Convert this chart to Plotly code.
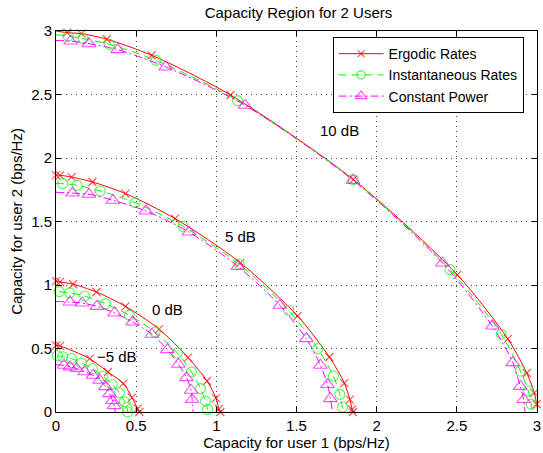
import plotly.graph_objects as go

# ---------------- data ----------------
tick_vals = [0, 0.5, 1, 1.5, 2, 2.5, 3]
tick_text = ["0", "0.5", "1", "1.5", "2", "2.5", "3"]

scheme_names = ["Ergodic Rates", "Instantaneous Rates", "Constant Power"]
snr_labels = ["10 dB", "5 dB", "0 dB", "\u22125 dB"]

# Ergodic rates (user1, user2)
erg_10_x = [0, 0.070, 0.159, 0.317, 0.596, 1.088, 1.855, 2.503, 2.818, 2.936, 2.983, 2.998, 3.005]
erg_10_y = [3.0, 2.987, 2.979, 2.935, 2.809, 2.496, 1.830, 1.080, 0.575, 0.307, 0.150, 0.061, 0]
erg_5_x = [0, 0.025, 0.097, 0.227, 0.433, 0.742, 1.150, 1.507, 1.705, 1.798, 1.833, 1.847, 1.852]
erg_5_y = [1.866, 1.864, 1.850, 1.811, 1.720, 1.523, 1.175, 0.755, 0.433, 0.228, 0.098, 0.021, 0]
erg_0_x = [0, 0.025, 0.107, 0.252, 0.433, 0.643, 0.824, 0.942, 0.998, 1.016, 1.025]
erg_0_y = [1.031, 1.024, 1.006, 0.945, 0.832, 0.652, 0.428, 0.244, 0.110, 0.025, 0]
erg_m5_x = [0, 0.025, 0.210, 0.324, 0.420, 0.474, 0.509, 0.520]
erg_m5_y = [0.525, 0.520, 0.420, 0.315, 0.224, 0.113, 0.027, 0]

# Instantaneous rates
ins_10_x = [0, 0.076, 0.169, 0.334, 0.623, 1.132, 1.853, 2.457, 2.777, 2.896, 2.946, 2.964, 2.970]
ins_10_y = [2.970, 2.960, 2.940, 2.895, 2.769, 2.452, 1.830, 1.121, 0.612, 0.323, 0.165, 0.061, 0]
ins_5_x = [0, 0.041, 0.132, 0.276, 0.493, 0.792, 1.142, 1.451, 1.633, 1.730, 1.770, 1.787, 1.800]
ins_5_y = [1.800, 1.798, 1.785, 1.740, 1.649, 1.462, 1.163, 0.801, 0.499, 0.283, 0.139, 0.039, 0]
ins_0_x = [0.020, 0.085, 0.179, 0.309, 0.458, 0.618, 0.756, 0.845, 0.901, 0.932, 0.946]
ins_0_y = [0.948, 0.938, 0.913, 0.853, 0.761, 0.630, 0.465, 0.315, 0.184, 0.087, 0.019]
ins_m5_x = [0.008, 0.041, 0.097, 0.159, 0.227, 0.293, 0.351, 0.396, 0.427, 0.443, 0.447]
ins_m5_y = [0.443, 0.435, 0.420, 0.386, 0.342, 0.282, 0.217, 0.150, 0.081, 0.035, 0]

# Constant power
con_10_x = [0, 0.091, 0.206, 0.385, 0.685, 1.179, 1.853, 2.410, 2.721, 2.849, 2.896, 2.917, 2.925]
con_10_y = [2.925, 2.921, 2.900, 2.853, 2.717, 2.415, 1.824, 1.173, 0.677, 0.389, 0.202, 0.098, 0]
con_5_x = [0, 0.103, 0.206, 0.355, 0.561, 0.829, 1.134, 1.396, 1.561, 1.649, 1.694, 1.711, 1.725]
con_5_y = [1.730, 1.724, 1.714, 1.667, 1.583, 1.417, 1.147, 0.840, 0.578, 0.368, 0.216, 0.105, 0]
con_0_x = [0, 0.087, 0.163, 0.255, 0.365, 0.478, 0.598, 0.695, 0.763, 0.814, 0.843, 0.849, 0.855]
con_0_y = [0.870, 0.866, 0.858, 0.832, 0.780, 0.709, 0.612, 0.491, 0.376, 0.271, 0.171, 0.098, 0]
con_m5_x = [0, 0.050, 0.087, 0.128, 0.179, 0.231, 0.272, 0.309, 0.334, 0.352, 0.363, 0.370]
con_m5_y = [0.372, 0.368, 0.355, 0.342, 0.317, 0.289, 0.250, 0.200, 0.145, 0.090, 0.050, 0]

# curve ends that carry no marker in the reference (line reaches the axis only)
unmarked_ends = {("erg", "10"), ("ins", "10"), ("ins", "5"),
                 ("con", "10"), ("con", "5"), ("con", "0"), ("con", "m5")}

# label anchor positions (data coordinates)
label_x = [1.77, 1.15, 0.693, 0.38]
label_y = [2.22, 1.383, 0.81, 0.44]

# ---------------- styling ----------------
FONT = "Liberation Sans, Arial, Helvetica, sans-serif"
styles = {
    "erg": dict(color="#ff0000", dash="solid", symbol="x-thin-open", size=8),
    "ins": dict(color="#00ff00", dash="8px,5px", symbol="circle-open", size=10),
    "con": dict(color="#ff00ff", dash="8px,3px,2px,3px", symbol="triangle-up-open", size=12),
}
series = {
    "erg": [("10", erg_10_x, erg_10_y), ("5", erg_5_x, erg_5_y), ("0", erg_0_x, erg_0_y), ("m5", erg_m5_x, erg_m5_y)],
    "ins": [("10", ins_10_x, ins_10_y), ("5", ins_5_x, ins_5_y), ("0", ins_0_x, ins_0_y), ("m5", ins_m5_x, ins_m5_y)],
    "con": [("10", con_10_x, con_10_y), ("5", con_5_x, con_5_y), ("0", con_0_x, con_0_y), ("m5", con_m5_x, con_m5_y)],
}

fig = go.Figure()
for key, name in zip(["erg", "ins", "con"], scheme_names):
    st = styles[key]
    for i, (snr, xs, ys) in enumerate(series[key]):
        sizes = [st["size"]] * len(xs)
        if (key, snr) in unmarked_ends:
            sizes[0] = 0
            sizes[-1] = 0
        fig.add_trace(go.Scatter(
            x=xs, y=ys, mode="lines+markers", name=name,
            legendgroup=key, showlegend=(i == 0),
            line=dict(color=st["color"], width=1, dash=st["dash"], shape="spline", smoothing=0.8),
            marker=dict(symbol=st["symbol"], size=sizes, color=st["color"],
                        line=dict(color=st["color"], width=1.1)),
            cliponaxis=False,
        ))

for txt, lx, ly in zip(snr_labels, label_x, label_y):
    fig.add_annotation(x=lx, y=ly, text=txt, showarrow=False,
                       font=dict(family=FONT, size=15, color="black"))

axis_common = dict(
    range=[0, 3], tickvals=tick_vals, ticktext=tick_text,
    ticks="inside", ticklen=5, tickcolor="black", tickwidth=1,
    showline=True, linecolor="black", linewidth=1, mirror="ticks",
    showgrid=True, gridcolor="rgba(0,0,0,0.75)", gridwidth=1, griddash="1px,4px",
    zeroline=False, tickfont=dict(family=FONT, size=15, color="black"),
    ticklabeloverflow="allow",
)
fig.update_layout(
    width=543, height=453,
    margin=dict(l=56, r=2, t=31, b=41),
    paper_bgcolor="white", plot_bgcolor="white",
    font=dict(family=FONT, size=15, color="black"),
    title=dict(text="Capacity Region for 2 Users", x=0.5497, xanchor="center",
               y=1 - 13 / 453, yanchor="middle", font=dict(family=FONT, size=15)),
    xaxis=dict(**axis_common, title=dict(text="Capacity for user 1 (bps/Hz)", standoff=2,
                                         font=dict(family=FONT, size=15))),
    yaxis=dict(**axis_common, title=dict(text="Capacity for user 2 (bps/Hz)", standoff=4,
                                         font=dict(family=FONT, size=15))),
    legend=dict(x=0.575, y=0.984, xanchor="left", yanchor="top",
                bgcolor="white", bordercolor="black", borderwidth=1,
                font=dict(family=FONT, size=14), itemwidth=45,
                tracegroupgap=0),
    showlegend=True,
)

fig.write_html("out.html")
